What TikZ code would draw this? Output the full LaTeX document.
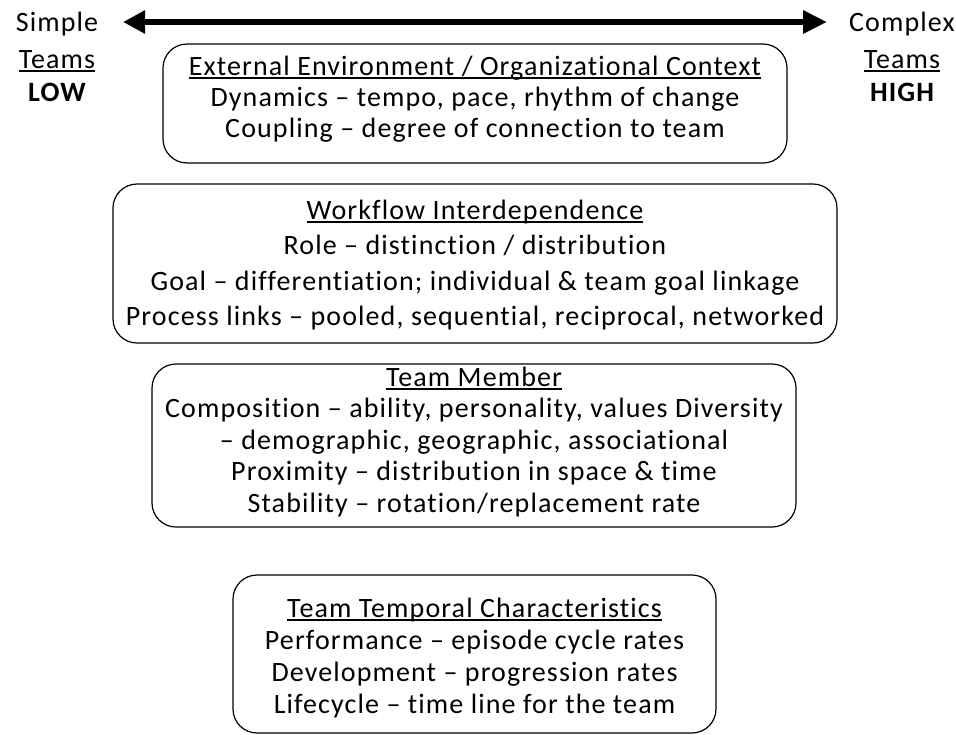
\documentclass[tikz,border=0pt]{standalone}
\usepackage{fontspec}
\setmainfont{Carlito}[Ligatures={NoCommon,NoContextual},LetterSpace=4]
\usetikzlibrary{arrows.meta}
\newcommand\ulin[1]{\leavevmode\setbox0\hbox{#1}\rlap{\rule[-3.5pt]{\wd0}{2pt}}\box0}
\begin{document}
\begin{tikzpicture}[x=1pt,y=-1pt,
  box/.style={draw, line width=1.2pt, rounded corners=24pt, inner sep=0pt},
  txt/.style={anchor=base, inner sep=0pt, font=\fontsize{28}{32}\selectfont},
  bigarrow/.style={line width=6.5pt, {Triangle[length=22pt,width=22pt]}-{Triangle[length=24pt,width=22pt]}}
]
\useasboundingbox (0,0) rectangle (956,734);
% arrow
\coordinate (L) at (123,22);
\coordinate (R) at (827,22);
\draw[bigarrow] (L) -- (R);
% side labels
\node[txt] (s1) at (57,31) {Simple};
\node[txt] (s2) at (57,68) {\ulin{Teams}};
\node[txt] (s3) at (57,101) {\bfseries LOW};
\node[txt] (c1) at (902,31) {Complex};
\node[txt] (c2) at (902,68) {\ulin{Teams}};
\node[txt] (c3) at (902,101) {\bfseries HIGH};
% boxes
\node[box, minimum width=624pt, minimum height=119pt] (b1) at (475,103.5) {};
\node[box, minimum width=724pt, minimum height=159pt] (b2) at (475,263.5) {};
\node[box, minimum width=644pt, minimum height=163pt] (b3) at (474,445.5) {};
\node[box, minimum width=483pt, minimum height=158pt] (b4) at (474.5,654) {};
% box 1 text
\node[txt] (t11) at (475,75) {\ulin{External Environment / Organizational\ Context}};
\node[txt] (t12) at (475,106) {Dynamics – tempo, pace, rhythm of change};
\node[txt] (t13) at (475,137) {Coupling – degree of connection to team};
% box 2 text
\node[txt] (t21) at (475,219) {\ulin{Workflow Interdependence}};
\node[txt] (t22) at (475,254.5) {Role – distinction / distribution};
\node[txt] (t23) at (475,290) {Goal – differentiation; individual \& team goal linkage};
\node[txt] (t24) at (475,325.5) {Process links – pooled, sequential, reciprocal, networked};
% box 3 text
\node[txt] (t31) at (474,386) {\ulin{Team Member}};
\node[txt] (t32) at (474,417.5) {Composition – ability, personality, values Diversity};
\node[txt] (t33) at (474,449) {– demographic, geographic, associational};
\node[txt] (t34) at (474,480.5) {Proximity – distribution in space \& time};
\node[txt] (t35) at (474,512) {Stability – rotation/replacement rate};
% box 4 text
\node[txt] (t41) at (474.5,617) {\ulin{Team Temporal Characteristics}};
\node[txt] (t42) at (474.5,649) {Performance – episode cycle rates};
\node[txt] (t43) at (474.5,681) {Development – progression rates};
\node[txt] (t44) at (474.5,713) {Lifecycle – time line for the team};
\end{tikzpicture}
\end{document}
